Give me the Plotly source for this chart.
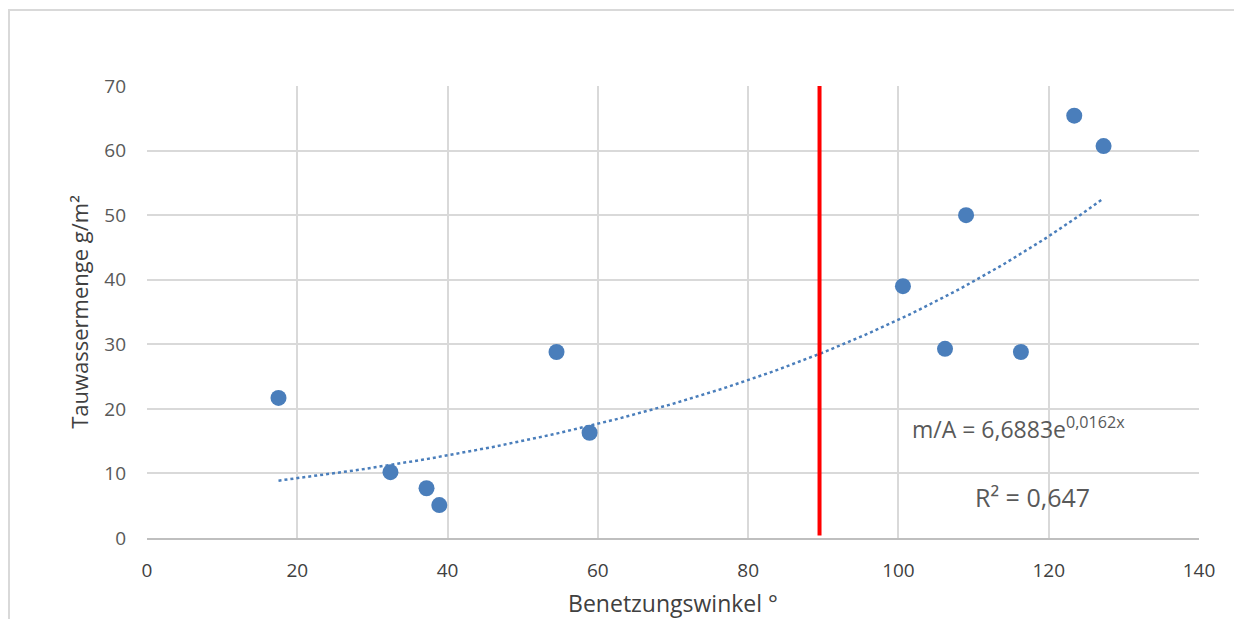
import numpy as np
import plotly.graph_objects as go

# Data
benetzungswinkel = [17.5, 32.4, 37.2, 38.9, 54.5, 58.9, 100.6, 106.2, 109.0, 116.3, 123.4, 127.3]
tauwassermenge = [21.7, 10.2, 7.7, 5.1, 28.8, 16.3, 39.0, 29.3, 50.0, 28.8, 65.4, 60.7]

# Exponential trendline as stated on the chart
trend_a = 6.6883
trend_b = 0.0162
equation_label = "m/A = 6,6883e<sup>0,0162x</sup>"
r_squared_label = "R² = 0,647"
threshold_angle = 89.5

x_ticks = [0, 20, 40, 60, 80, 100, 120, 140]
y_ticks = [0, 10, 20, 30, 40, 50, 60, 70]

blue = "#4a7ebb"
font_family = "Open Sans, Liberation Sans, sans-serif"

trend_x = np.linspace(min(benetzungswinkel), max(benetzungswinkel), 200)
trend_y = trend_a * np.exp(trend_b * trend_x)

fig = go.Figure()
fig.add_trace(go.Scatter(x=trend_x, y=trend_y, mode="lines",
                         line=dict(color=blue, width=2.5, dash="dot"),
                         hoverinfo="skip", showlegend=False))
fig.add_trace(go.Scatter(x=benetzungswinkel, y=tauwassermenge, mode="markers",
                         marker=dict(color=blue, size=16), showlegend=False))
fig.add_trace(go.Scatter(x=[threshold_angle, threshold_angle], y=[0.4, 70], mode="lines",
                         line=dict(color="#ff0000", width=4), showlegend=False))

fig.add_annotation(x=101.6, y=17.0, xref="x", yref="y", showarrow=False, xanchor="left",
                   text=equation_label,
                   font=dict(family=font_family, size=23, color="#595959"))
fig.add_annotation(x=117.9, y=6.4, xref="x", yref="y", showarrow=False,
                   text=r_squared_label,
                   font=dict(family=font_family, size=25, color="#595959"))

# outer chart border
fig.add_shape(type="rect", xref="paper", yref="paper",
              x0=-0.1312, x1=1.039, y0=-0.3, y1=1.168,
              line=dict(color="#d9d9d9", width=2), layer="below")

fig.update_layout(
    width=1226, height=611,
    margin=dict(l=139, r=35, t=78, b=81, autoexpand=False),
    paper_bgcolor="white", plot_bgcolor="white",
    font=dict(family=font_family, color="#595959"),
    xaxis=dict(range=[0, 140], tickvals=x_ticks, showgrid=True, gridcolor="#d9d9d9",
               gridwidth=1.5, zeroline=False, showline=True, linecolor="#bfbfbf",
               linewidth=1.5, mirror=False, ticks="", tickfont=dict(size=19, color="#404040"),
               ticklabelstandoff=14, automargin=False,
               title=dict(text="Benetzungswinkel °", font=dict(size=23, color="#404040"),
                          standoff=18)),
    yaxis=dict(range=[0, 70], tickvals=y_ticks, showgrid=True, gridcolor="#d9d9d9",
               gridwidth=1.5, zeroline=False, showline=False, ticks="",
               tickfont=dict(size=19, color="#595959"), ticklabelstandoff=20, automargin=False,
               title=dict(text="Tauwassermenge g/m²", font=dict(size=22, color="#404040"),
                          standoff=9)),
)

fig.write_html("out.html")
